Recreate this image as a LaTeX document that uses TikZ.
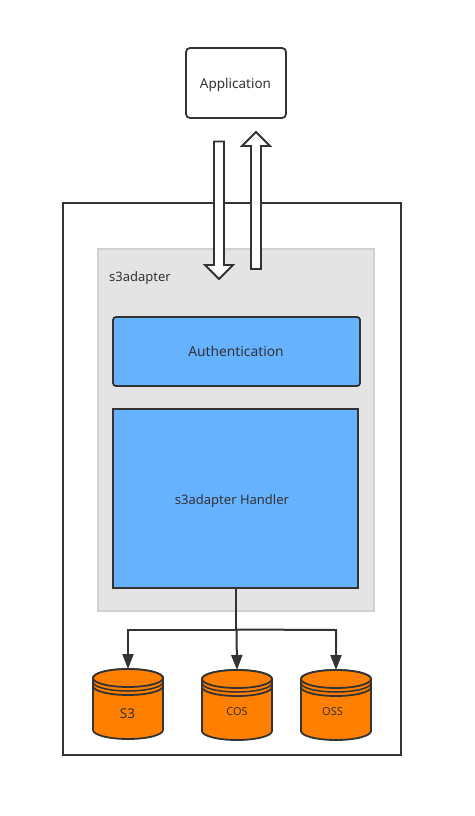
\documentclass[tikz,border=0pt]{standalone}
\usepackage{fontspec}
\setmainfont{Noto Sans}
\usetikzlibrary{arrows.meta}
\definecolor{ln}{HTML}{333333}
\definecolor{bluefill}{HTML}{66B2FF}
\definecolor{orangefill}{HTML}{FF8000}
\definecolor{grayfill}{HTML}{E4E4E4}
\tikzset{
  lab/.style={font=\fontsize{13}{15}\selectfont, text=ln, inner sep=0pt},
  smalllab/.style={font=\fontsize{11}{13}\selectfont, text=ln, inner sep=0pt},
  box/.style={draw=ln, line width=1.8pt, inner sep=0pt, outer sep=0pt, anchor=north west},
  bluebox/.style={box, fill=bluefill},
  wide/.style={draw=ln, line width=1.8pt, fill=white, line join=miter},
  conn/.style={draw=ln, line width=2pt, -{Triangle[length=15pt,width=11pt]}},
  trunk/.style={draw=ln, line width=2pt},
  can/.style={draw=ln, line width=1.8pt, fill=orangefill}
}
\newcommand{\cancyl}[2]{%
  % #1 left x, #2 top y
  \begin{scope}[shift={(#1,#2)}]
    \path[can] (0,9) -- (0,61) arc[start angle=180,end angle=0,x radius=35,y radius=9] -- (70,9) arc[start angle=0,end angle=-180,x radius=35,y radius=9] -- cycle;
    \path[can] (35,9) ellipse[x radius=35,y radius=9];
    \draw[ln,line width=1.5pt] (0,13) arc[start angle=180,end angle=0,x radius=35,y radius=9];
    \draw[ln,line width=1.8pt] (0,17) arc[start angle=180,end angle=0,x radius=35,y radius=9];
  \end{scope}%
}
\begin{document}
\begin{tikzpicture}[x=1pt,y=-1pt]
  \useasboundingbox (0,0) rectangle (474,816);
  \fill[white] (0,0) rectangle (474,816);
  \node[box, minimum width=338pt, minimum height=552pt] (outer) at (63,203) {};
  \node[anchor=north west, draw=black!18, fill=grayfill, line width=1.8pt, outer sep=0pt, minimum width=276pt, minimum height=362pt, inner sep=0pt] (gray) at (98,249) {};
  \node[lab, anchor=west] (title) at (109,278) {s3adapter};
  \node[bluebox, rounded corners=3pt, minimum width=247pt, minimum height=69pt] (auth) at (113,317) {};
  \node[lab, font=\fontsize{13.8}{15}\selectfont] at (236,351.5) {Authentication};
  \node[bluebox, minimum width=245pt, minimum height=179pt] (handler) at (113,409) {};
  \node[lab] at (232,501.5) {s3adapter Handler};
  \node[box, fill=white, rounded corners=4pt, minimum width=100pt, minimum height=70pt] (app) at (186,48) {};
  \node[lab, font=\fontsize{13.5}{15}\selectfont] at (235.5,85) {Application};
  % block arrows
  \path[wide] (214,141.5) -- (224,141.5) -- (224,265) -- (233,265) -- (219,279) -- (205,265) -- (214,265) -- cycle;
  \path[wide] (251,269) -- (261,269) -- (261,146) -- (270,146) -- (256,132) -- (242,146) -- (251,146) -- cycle;
  % cylinders
  \cancyl{93}{669}
  \cancyl{202}{670}
  \cancyl{301}{670}
  \node[lab, font=\fontsize{13.5}{15}\selectfont] (s3) at (127.5,713.5) {S3};
  \node[smalllab] (cos) at (237,711.5) {COS};
  \node[smalllab] (oss) at (332.5,711.5) {OSS};
  \coordinate (s3top) at (128,669);
  \coordinate (costop) at (237,670);
  \coordinate (osstop) at (336,670);
  \coordinate (hub) at (236,629.5);
  % connectors
  \draw[trunk] (handler.south -| hub) -- (hub);
  \draw[conn] (hub) -- (128,629.5) -- (s3top);
  \draw[conn] (236.5,630) -- (costop);
  \draw[conn] (hub) -- (336,630) -- (osstop);
\end{tikzpicture}
\end{document}
